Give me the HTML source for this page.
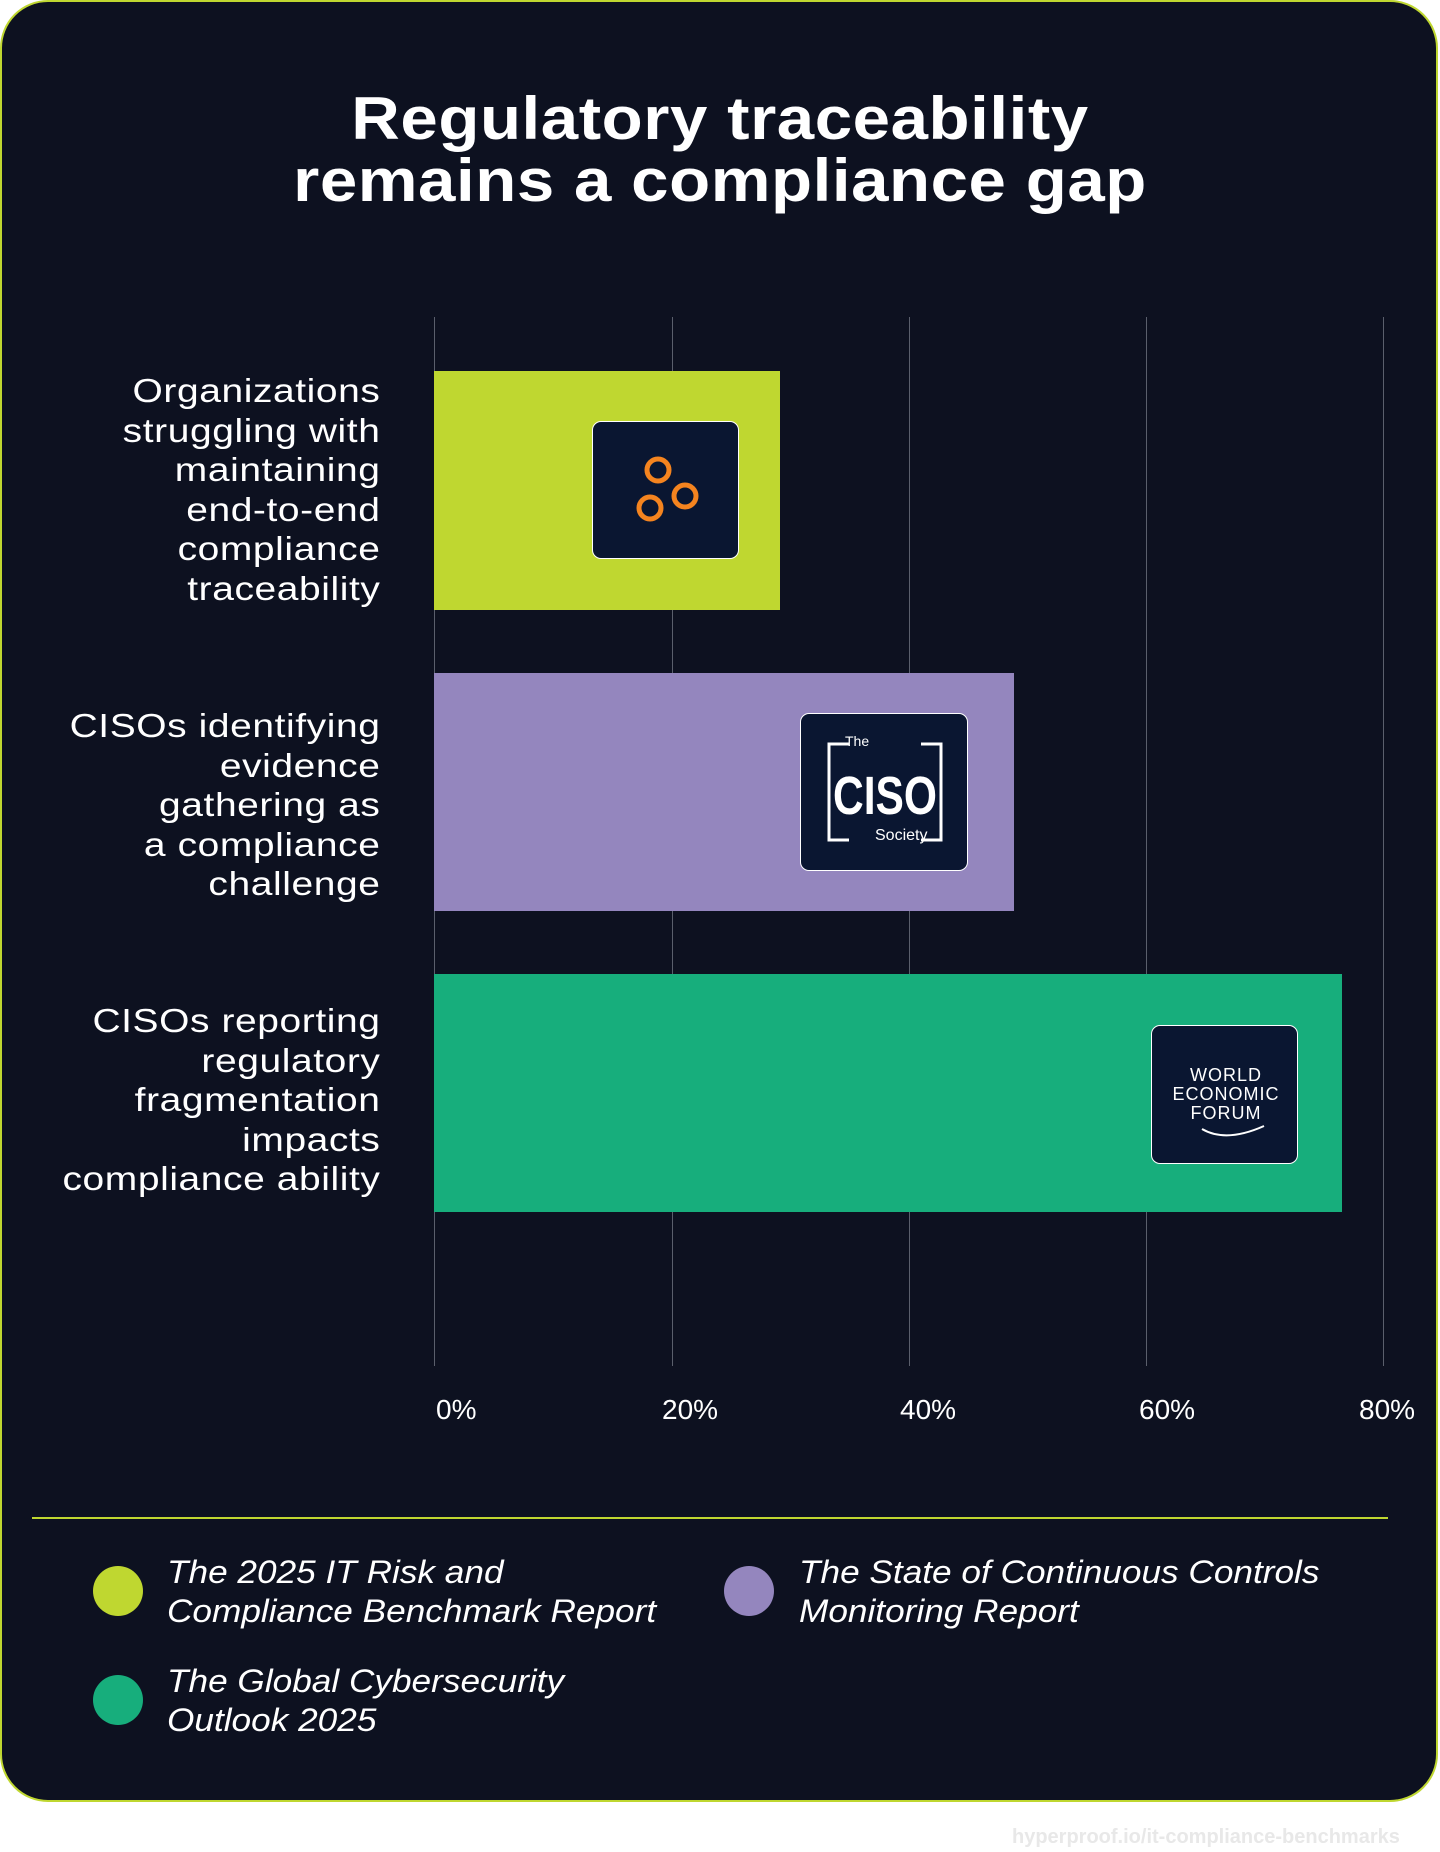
<!DOCTYPE html>
<html style="overflow:hidden;width:1440px;height:1852px"><head><meta charset="utf-8"><style>
*{margin:0;padding:0;box-sizing:border-box}
body{width:1440px;height:1852px;background:#fff;position:relative;font-family:"Liberation Sans",sans-serif;overflow:hidden}
.wrap{position:absolute;left:0;top:0;width:1440px;height:1852px;overflow:hidden}
.card{position:absolute;left:0;top:0;width:1438px;height:1802px;background:#0d1120;border:2px solid #bfd730;border-radius:48px}
.t{position:absolute;left:0;width:1440px;text-align:center;color:#fff;font-weight:bold;font-size:60px;letter-spacing:0.5px;transform:scaleX(1.12);transform-origin:720px 0;white-space:nowrap}
.g{position:absolute;top:317px;height:1049px;width:1px;background:#5a5f6c}
.bar{position:absolute;left:434px}
.lab{position:absolute;right:1060px;text-align:right;color:#fff;font-size:33px;line-height:39.5px;letter-spacing:0.5px;white-space:nowrap;transform:scaleX(1.18);transform-origin:right top}
.logo{position:absolute;background:#0a1631;border:1.5px solid #fff;border-radius:9px}
.tick{position:absolute;top:1394px;color:#fff;font-size:28px}
.dot{position:absolute;width:50px;height:50px;border-radius:50%}
.lg{position:absolute;color:#fff;font-style:italic;font-size:32px;line-height:39px;white-space:nowrap;transform:scaleX(1.1);transform-origin:left top}
</style></head><body><div class="wrap">
<div class="card"></div>
<div class="t" style="top:84px">Regulatory traceability</div>
<div class="t" style="top:146px">remains a compliance gap</div>
<div class="g" style="left:434px"></div><div class="g" style="left:672px"></div><div class="g" style="left:909px"></div><div class="g" style="left:1146px"></div><div class="g" style="left:1383px"></div>
<div class="bar" style="top:371px;height:239px;width:346px;background:#bfd730"></div>
<div class="bar" style="top:673px;height:238px;width:580px;background:#9486be"></div>
<div class="bar" style="top:974px;height:238px;width:908px;background:#17ae7c"></div>
<div class="logo" style="left:592px;top:421px;width:147px;height:138px">
<svg width="147" height="138" viewBox="0 0 147 138"><g fill="none" stroke="#f5841f" stroke-width="5"><circle cx="65" cy="48" r="11"/><circle cx="57" cy="86" r="11"/><circle cx="92" cy="74" r="11"/></g></svg></div>
<div class="logo" style="left:800px;top:713px;width:168px;height:158px">
<svg width="168" height="158" viewBox="0 0 168 158"><path d="M48 30 H28 V126 H48 M120 30 H140 V126 H120" fill="none" stroke="#fff" stroke-width="3"/>
<text x="44" y="32" fill="#fff" font-size="14" font-family="Liberation Sans">The</text>
<text x="84" y="100" fill="#fff" font-size="54" font-weight="bold" text-anchor="middle" font-family="Liberation Sans Narrow,Liberation Sans" textLength="104" lengthAdjust="spacingAndGlyphs">CISO</text>
<text x="74" y="126" fill="#fff" font-size="16" font-family="Liberation Sans">Society</text></svg></div>
<div class="logo" style="left:1151px;top:1025px;width:147px;height:139px">
<svg width="147" height="139" viewBox="0 0 147 139" font-family="Liberation Sans" fill="#fff" font-size="18" text-anchor="middle" letter-spacing="1"><text x="74" y="55">WORLD</text><text x="74" y="74">ECONOMIC</text><text x="74" y="93">FORUM</text><path d="M50 103 Q74 117 112 100" fill="none" stroke="#fff" stroke-width="2"/></svg></div>
<div class="lab" style="top:371px">Organizations<br>struggling with<br>maintaining<br>end-to-end<br>compliance<br>traceability</div>
<div class="lab" style="top:706px">CISOs identifying<br>evidence<br>gathering as<br>a compliance<br>challenge</div>
<div class="lab" style="top:1001px">CISOs reporting<br>regulatory<br>fragmentation<br>impacts<br>compliance ability</div>
<div class="tick" style="left:436px">0%</div>
<div class="tick" style="left:662px">20%</div>
<div class="tick" style="left:900px">40%</div>
<div class="tick" style="left:1139px">60%</div>
<div class="tick" style="left:1359px">80%</div>
<div style="position:absolute;left:32px;top:1517px;width:1356px;height:2px;background:#bfd730"></div>
<div class="dot" style="left:93px;top:1566px;background:#bfd730"></div>
<div class="lg" style="left:167px;top:1553px">The 2025 IT Risk and<br>Compliance Benchmark Report</div>
<div class="dot" style="left:724px;top:1566px;background:#9486be"></div>
<div class="lg" style="left:799px;top:1553px">The State of Continuous Controls<br>Monitoring Report</div>
<div class="dot" style="left:93px;top:1675px;background:#17ae7c"></div>
<div class="lg" style="left:167px;top:1662px">The Global Cybersecurity<br>Outlook 2025</div>
<div style="position:absolute;left:1012px;top:1826px;color:#e8e8e8;font-size:20px;font-weight:bold;white-space:nowrap">hyperproof.io/it-compliance-benchmarks</div>
</div></body></html>
